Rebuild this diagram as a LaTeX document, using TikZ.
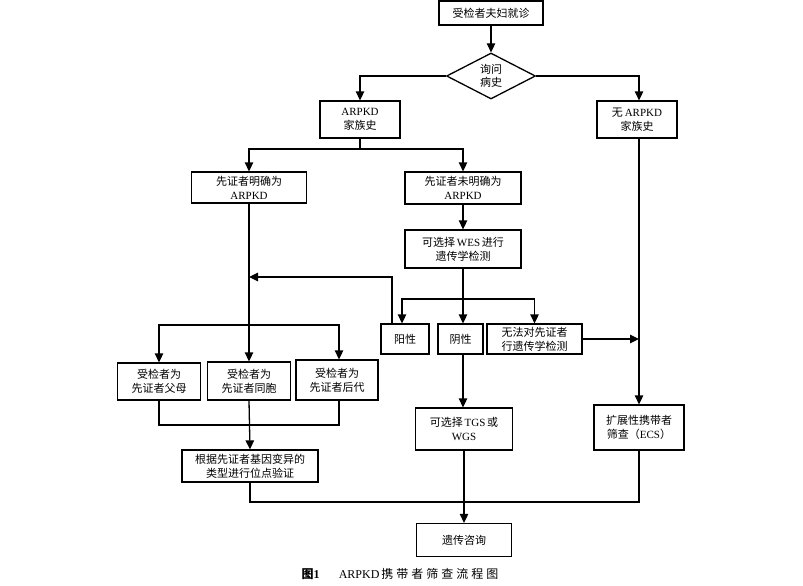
\documentclass[tikz,border=0pt]{standalone}
\usepackage{fontspec}
\setmainfont{Liberation Serif}
\newfontfamily\cjk{Noto Sans CJK SC}
\newfontfamily\cjkcap[LetterSpace=25]{Noto Sans CJK SC}
\usetikzlibrary{shapes.geometric,arrows.meta}
\newcommand{\zh}[1]{{\cjk #1}}
\begin{document}
\begin{tikzpicture}[x=1pt,y=-1pt,
  box/.style={draw, line width=1.3pt, align=center, inner sep=0pt,
    font=\fontsize{11}{14}\selectfont},
  conn/.style={line width=1.3pt},
  arr/.style={line width=1.3pt, -{Triangle[length=9pt,width=8.5pt]}}]
\useasboundingbox (0,0) rectangle (803,586);
% nodes
\node[box, minimum width=104pt, minimum height=24pt] (top) at (491,13) {\zh{受检者夫妇就诊}};
\node[box, diamond, aspect=1.93, minimum width=89pt, minimum height=46pt] (dia) at (491,76) {\zh{询问}\\[-1pt]\zh{病史}};
\node[box, minimum width=80pt, minimum height=37pt] (arpkd) at (360,119.5) {ARPKD\\\zh{家族史}};
\node[box, minimum width=80pt, minimum height=37pt] (noarpkd) at (637,119.5) {\zh{无}\,ARPKD\\\zh{家族史}};
\node[box, minimum width=115pt, minimum height=31pt] (c1) at (249,187.5) {\zh{先证者明确为}\\ARPKD};
\node[box, minimum width=116pt, minimum height=32pt] (c2) at (463,188) {\zh{先证者未明确为}\\ARPKD};
\node[box, minimum width=116pt, minimum height=38pt] (wes) at (463,249) {\zh{可选择}\,WES\,\zh{进行}\\\zh{遗传学检测}};
\node[box, minimum width=48pt, minimum height=30pt] (yang) at (405,339) {\zh{阳性}};
\node[box, minimum width=45pt, minimum height=30pt] (yin) at (460.5,339) {\zh{阴性}};
\node[box, minimum width=95pt, minimum height=30pt] (wufa) at (534.5,339) {\zh{无法对先证者}\\\zh{行遗传学检测}};
\node[box, minimum width=83pt, minimum height=37pt] (p1) at (159,381.5) {\zh{受检者为}\\\zh{先证者父母}};
\node[box, minimum width=83pt, minimum height=38pt] (p2) at (249,381) {\zh{受检者为}\\\zh{先证者同胞}};
\node[box, minimum width=82pt, minimum height=40pt] (p3) at (337,380) {\zh{受检者为}\\\zh{先证者后代}};
\node[box, minimum width=97pt, minimum height=42pt] (tgs) at (464,429) {\zh{可选择}\,TGS\,\zh{或}\\WGS};
\node[box, minimum width=90pt, minimum height=45pt] (ext) at (639,427.5) {\zh{扩展性携带者}\\\zh{筛查（}ECS\zh{）}};
\node[box, minimum width=136pt, minimum height=32pt] (gen) at (250,466) {\zh{根据先证者基因变异的}\\\zh{类型进行位点验证}};
\node[box, minimum width=95pt, minimum height=33pt] (cons) at (464,540) {\zh{遗传咨询}};
\node[font=\fontsize{12}{14}\selectfont, anchor=center] (cap) at (400,574) {{\cjk\bfseries 图}\textbf{1}\hspace{1.6em}ARPKD\,{\cjkcap 携带者筛查流程图}};
% coordinates
\coordinate (j1) at (360,149);
\coordinate (j2) at (463,299);
\coordinate (r1) at (249,277);
\coordinate (j3) at (249,325);
\coordinate (j4) at (249,425);
\coordinate (j5) at (464,502);
% connectors
\draw[arr] (top.south) -- (dia.north);
\draw[arr] (dia.west) -| (arpkd.north);
\draw[arr] (dia.east) -| (noarpkd.north -| ext.north);
\draw[conn] (arpkd.south) -- (j1);
\draw[arr] (j1) -| (c1.north);
\draw[arr] (j1) -| (c2.north);
\draw[arr] (c2.south) -- (wes.north);
\draw[conn] (wes.south) -- (j2);
\draw[arr] (j2) -| ([xshift=-3pt]yang.north);
\draw[arr] (j2) -- (j2 |- yin.north);
\draw[arr] (j2) -| (wufa.north);
\draw[arr] ([xshift=-13pt]yang.north) |- (r1);
\draw[conn] (c1.south) -- (j3);
\draw[arr] (j3) -| (p1.north);
\draw[arr] (j3) -- (p2.north);
\draw[arr] (j3) -| ([xshift=2pt]p3.north);
\draw[conn] (p1.south) |- (j4) -| ([xshift=2pt]p3.south);
\draw[arr] (p2.south) -- (gen.north);
\draw[arr] (j2 |- yin.south) -- (j2 |- tgs.north);
\draw[arr] (tgs.south) -- (cons.north);
\draw[conn] (gen.south) |- (j5) -| (ext.south);
\draw[arr] (noarpkd.south -| ext.north) -- (ext.north);
\draw[arr] (wufa.east) -- (wufa.east -| ext.north);
\end{tikzpicture}
\end{document}
